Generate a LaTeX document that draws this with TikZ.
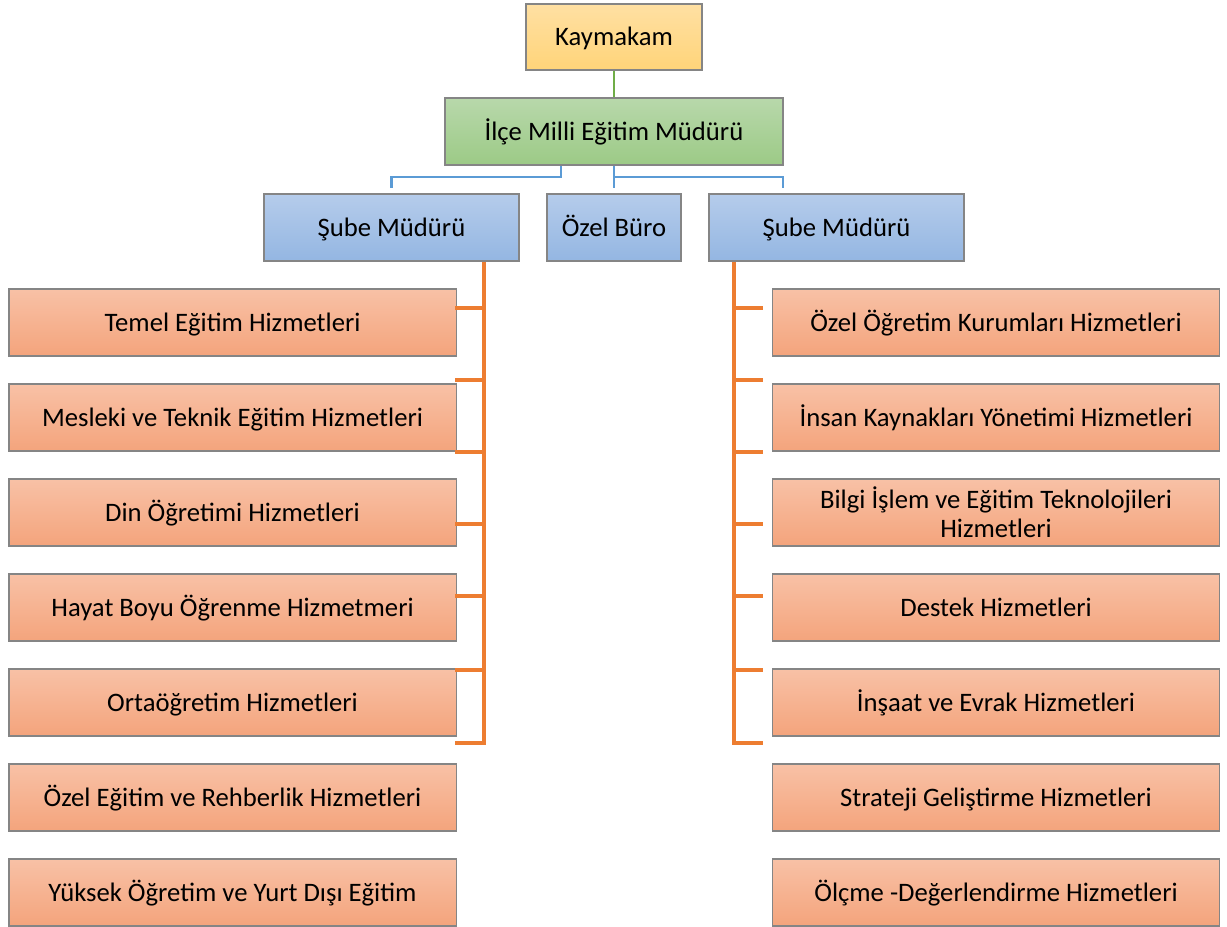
\documentclass[tikz,border=0pt]{standalone}
\usepackage{fontspec}
\setmainfont{Carlito}
\definecolor{orline}{HTML}{ED7D31}
\definecolor{blline}{HTML}{5B9BD5}
\definecolor{grline}{HTML}{70AD47}
\definecolor{bord}{HTML}{858585}
\definecolor{yeltop}{HTML}{FFE0A3}
\definecolor{yelbot}{HTML}{FFD479}
\definecolor{grtop}{HTML}{B8D8AB}
\definecolor{grbot}{HTML}{9CCA86}
\definecolor{bltop}{HTML}{B5CCEB}
\definecolor{blbot}{HTML}{94B6E2}
\definecolor{ortop}{HTML}{F8C1A6}
\definecolor{orbot}{HTML}{F4A47C}
\begin{document}
\begin{tikzpicture}[x=0.75pt,y=-0.75pt,
  base/.style={draw=bord,line width=1pt,rectangle,inner sep=0pt,minimum height=50.25pt,
    font=\fontsize{20}{22}\selectfont,align=center,text height=15pt,text depth=2.1pt},
  yellowbox/.style={base,top color=yeltop,bottom color=yelbot,minimum width=132pt,minimum height=49.5pt},
  greenbox/.style={base,top color=grtop,bottom color=grbot,minimum width=253.5pt},
  bluebox/.style={base,top color=bltop,bottom color=blbot},
  orbox/.style={base,top color=ortop,bottom color=orbot,minimum width=335.5pt},
  oline/.style={draw=orline,line width=2.4pt},
  bline/.style={draw=blline,line width=2.2pt},
  gline/.style={draw=grline,line width=2pt}]
\useasboundingbox (0,0) rectangle (1227,927);

\node[yellowbox] (kay) at (614,37) {Kaymakam};
\node[greenbox] (ilce) at (614,131.5) {İlçe Milli Eğitim Müdürü};
\node[bluebox,minimum width=191.25pt] (subeL) at (391.5,227.5) {Şube Müdürü};
\node[bluebox,minimum width=100.5pt] (buro) at (614,227.5) {Özel Büro};
\node[bluebox,minimum width=191.25pt] (subeR) at (836.5,227.5) {Şube Müdürü};

\node[orbox] (l1) at (232.5,322.5) {Temel Eğitim Hizmetleri};
\node[orbox] (l2) at (232.5,417.5) {Mesleki ve Teknik Eğitim Hizmetleri};
\node[orbox] (l3) at (232.5,512.5) {Din Öğretimi Hizmetleri};
\node[orbox] (l4) at (232.5,607.5) {Hayat Boyu Öğrenme Hizmetmeri};
\node[orbox] (l5) at (232.5,702.5) {Ortaöğretim Hizmetleri};
\node[orbox] (l6) at (232.5,797.5) {Özel Eğitim ve Rehberlik Hizmetleri};
\node[orbox] (l7) at (232.5,892.5) {Yüksek Öğretim ve Yurt Dışı Eğitim};

\node[orbox] (r1) at (996,322.5) {Özel Öğretim Kurumları Hizmetleri};
\node[orbox] (r2) at (996,417.5) {İnsan Kaynakları Yönetimi Hizmetleri};
\node[orbox,text height={},text depth={}] (r3) at (996,512.5) {Bilgi İşlem ve Eğitim Teknolojileri\\Hizmetleri};
\node[orbox] (r4) at (996,607.5) {Destek Hizmetleri};
\node[orbox] (r5) at (996,702.5) {İnşaat ve Evrak Hizmetleri};
\node[orbox] (r6) at (996,797.5) {Strateji Geliştirme Hizmetleri};
\node[orbox] (r7) at (996,892.5) {Ölçme -Değerlendirme Hizmetleri};

% green connector
\draw[gline] (kay.south) -- (ilce.north);

% blue connectors
\coordinate (bA) at (561,177);
\coordinate (bB) at (391.5,188);
\coordinate (bC) at (614,188);
\coordinate (bD) at (783,188);
\draw[bline] (ilce.south -| bA) -- (bA) -| (bB);
\draw[bline] (ilce.south) -- (bC);
\draw[bline] (614,177) -| (bD);

% orange connectors
\coordinate (lv) at (484,743);
\coordinate (rv) at (734,743);
\draw[oline] (subeL.south -| lv) -- (lv) -- (455,743);
\foreach \yy in {308,380,452,524,596,670}
  \draw[oline] (455,\yy) -- (484,\yy);
\draw[oline] (subeR.south -| rv) -- (rv) -- (763,743);
\foreach \yy in {308,380,452,524,596,670}
  \draw[oline] (734,\yy) -- (763,\yy);
\end{tikzpicture}
\end{document}
